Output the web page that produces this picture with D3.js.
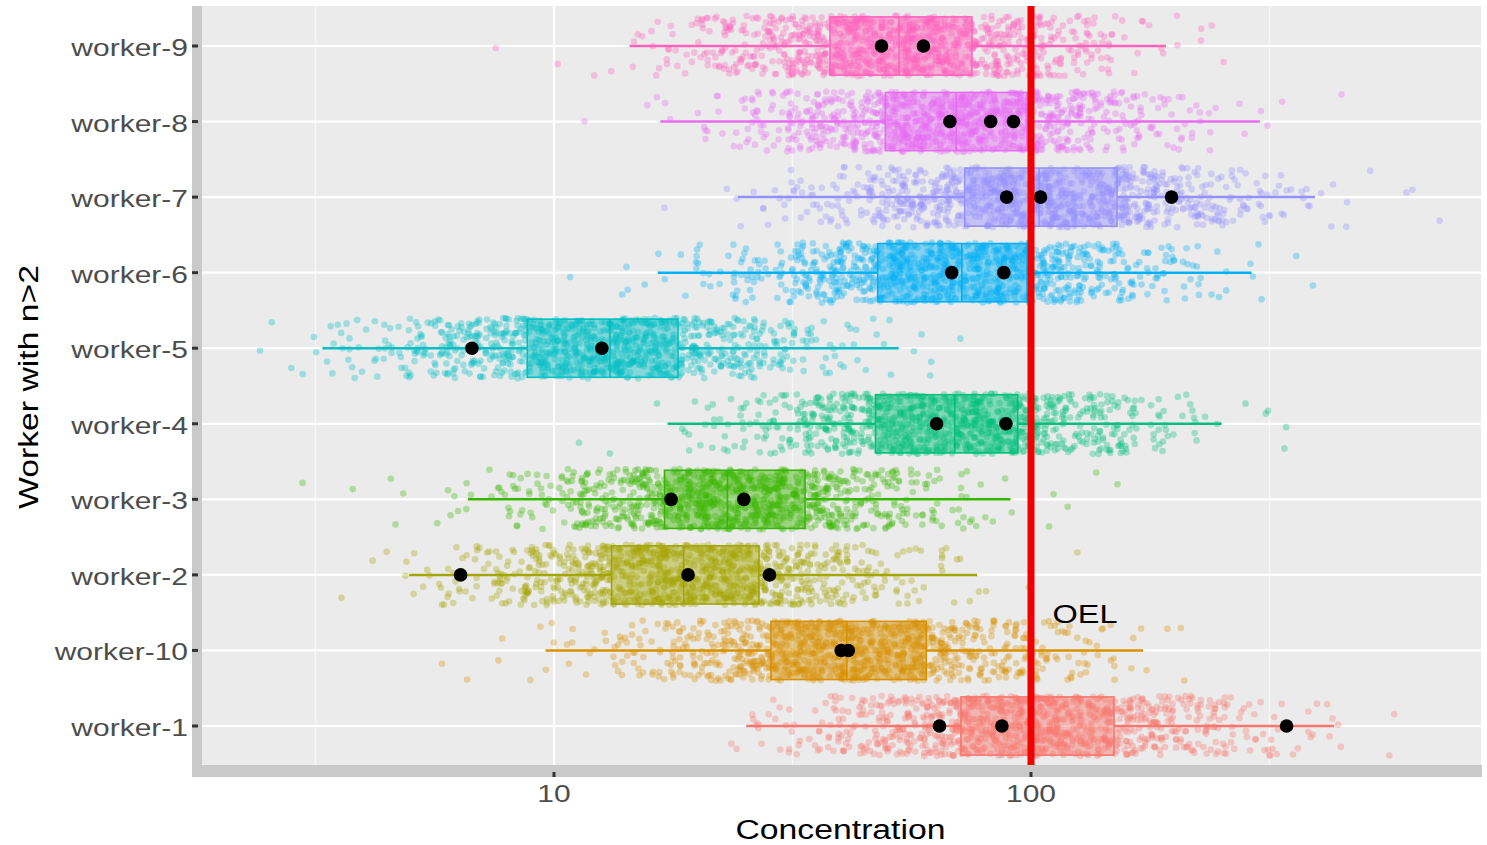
<!DOCTYPE html>
<html><head><meta charset="utf-8">
<script src="https://cdn.jsdelivr.net/npm/d3@7"></script>
<style>html,body{margin:0;padding:0;background:#fff;}svg{display:block;}</style>
</head><body>
<script>
// ---------- DATA ----------
// categories, bottom to top (ggplot alphabetical order)
const workers = ["worker-1","worker-10","worker-2","worker-3","worker-4","worker-5","worker-6","worker-7","worker-8","worker-9"];
const colors = ["#F8766D","#D89000","#A3A500","#39B600","#00BF7D","#00BFC4","#00B0F6","#9590FF","#E76BF3","#FF62BC"];
// boxplot statistics (Concentration)
const whiskerLow  = [25.3, 9.6, 4.97, 6.6, 17.3, 3.27, 16.5, 24.3, 16.7, 14.4];
const q1          = [71.3, 28.5, 13.2, 17.05, 47.2, 8.79, 47.7, 72.6, 49.5, 37.9];
const median      = [101, 41.1, 18.7, 23.1, 69.2, 13.1, 71.6, 104, 69.7, 52.9];
const q3          = [149.3, 60.3, 26.9, 33.6, 93.8, 18.2, 98.1, 151.5, 98.1, 75.2];
const whiskerHigh = [431.7, 171.8, 77.1, 90.6, 251, 52.8, 290, 394, 302, 191.9];
// observed measurements (black dots)
const obs_w1  = [64.3, 86.9, 343.4];
const obs_w10 = [40.0, 41.4];
const obs_w2  = [6.37, 19.1, 28.3];
const obs_w3  = [17.6, 25.0];
const obs_w4  = [63.4, 88.6];
const obs_w5  = [6.73, 12.6];
const obs_w6  = [68.2, 87.7];
const obs_w7  = [88.9, 104.7, 197.1];
const obs_w8  = [67.6, 82.3, 91.9];
const obs_w9  = [48.6, 59.5];
const observed = [obs_w1, obs_w10, obs_w2, obs_w3, obs_w4, obs_w5, obs_w6, obs_w7, obs_w8, obs_w9];
// jittered cloud: approximate number of points per log10 bin (bins start at log10 = 0.3, width 0.1)
const binStart = 0.3, binWidth = 0.1;
const cloud_w1  = [0,0,0,0,0,0,0,0,0,0,3,12,29,55,99,140,160,167,135,95,59,27,13,5,2,0];
const cloud_w10 = [0,0,0,0,1,2,3,9,23,51,86,132,158,169,142,107,62,34,13,5,1,0,0,0,0,0];
const cloud_w2  = [0,0,1,4,13,34,63,112,150,176,161,130,81,45,18,7,2,1,0,0,0,0,0,0,0,0];
const cloud_w3  = [0,0,1,2,3,10,27,63,108,160,181,174,128,82,39,17,5,2,1,1,0,0,0,0,0,0];
const cloud_w4  = [0,0,0,0,0,0,0,1,1,3,17,40,81,128,170,178,157,107,64,28,12,4,1,0,0,0];
const cloud_w5  = [1,4,11,28,54,97,137,168,164,139,95,56,26,11,4,1,0,0,0,0,0,0,0,0,0,0];
const cloud_w6  = [0,0,0,0,0,0,0,1,2,7,18,43,78,124,157,172,151,116,69,37,14,5,2,0,0,0];
const cloud_w7  = [0,0,0,0,0,0,0,0,0,1,3,9,24,48,89,130,163,165,146,104,64,31,14,5,2,1];
const cloud_w8  = [0,0,0,0,0,0,0,0,1,5,15,37,77,124,168,180,161,114,68,31,12,4,1,1,0,0];
const cloud_w9  = [0,0,0,0,0,0,1,2,6,18,45,84,135,171,180,151,105,58,28,10,3,1,0,0,0,0];
const clouds = [cloud_w1, cloud_w10, cloud_w2, cloud_w3, cloud_w4, cloud_w5, cloud_w6, cloud_w7, cloud_w8, cloud_w9];
const xTicks = [10, 100];
const xMinor = [Math.sqrt(10), Math.sqrt(1000), Math.sqrt(100000)];
const oelValue = 100;
const oelLabel = "OEL";
const xTitle = "Concentration";
const yTitle = "Worker with n>2";

// ---------- LAYOUT ----------
const W = 1487, H = 845;
const panel = {left: 200, right: 1481, top: 6, bottom: 768};
const svg = d3.select("body").append("svg").attr("width", W).attr("height", H);

const x = d3.scaleLog().domain([10, 100]).range([554, 1031]);
const y = d3.scalePoint().domain(workers).range([726, 46]);
const step = y.step();
const FONT = "'Liberation Sans', Arial, Helvetica, sans-serif";
const SX = 1.25; // horizontal text stretch seen in the reference

// panel background
svg.append("rect").attr("x", panel.left).attr("y", panel.top)
  .attr("width", panel.right - panel.left).attr("height", panel.bottom - panel.top).attr("fill", "#EBEBEB");

const grid = svg.append("g");
grid.selectAll("line.minor").data(xMinor).join("line")
  .attr("x1", d => x(d)).attr("x2", d => x(d)).attr("y1", panel.top).attr("y2", panel.bottom)
  .attr("stroke", "#F7F7F7").attr("stroke-width", 1.2);
grid.selectAll("line.majx").data(xTicks).join("line")
  .attr("x1", d => x(d)).attr("x2", d => x(d)).attr("y1", panel.top).attr("y2", panel.bottom)
  .attr("stroke", "#FFFFFF").attr("stroke-width", 2.2);
grid.selectAll("line.majy").data(workers).join("line")
  .attr("x1", panel.left).attr("x2", panel.right).attr("y1", d => y(d)).attr("y2", d => y(d))
  .attr("stroke", "#FFFFFF").attr("stroke-width", 2.2);

// deterministic hash used only to lay out the jitter (not data)
function hash01(n) {
  let h = (n * 2654435761) >>> 0;
  h ^= h >>> 16; h = Math.imul(h, 0x45d9f3b) >>> 0; h ^= h >>> 16;
  h = Math.imul(h, 0x45d9f3b) >>> 0; h ^= h >>> 16;
  return (h >>> 0) / 4294967296;
}

// jittered cloud
const cloudG = svg.append("g");
let k = 0;
workers.forEach((w, wi) => {
  const cy = y(w);
  const pts = [];
  clouds[wi].forEach((n, bi) => {
    const c = binStart + binWidth * (bi + 0.5);
    for (let j = 0; j < n; j++) {
      k++;
      const u1 = hash01(3 * k + 1), u2 = hash01(3 * k + 2), u3 = hash01(3 * k + 3);
      const lv = c + (u1 + u3 - 1) * binWidth;
      pts.push({v: Math.pow(10, lv), dy: (u2 - 0.5) * 0.8 * step});
    }
  });
  cloudG.append("g").selectAll("circle").data(pts).join("circle")
    .attr("cx", d => x(d.v)).attr("cy", d => cy + d.dy).attr("r", 3.3)
    .attr("fill", colors[wi]).attr("fill-opacity", 0.33);
});

// boxplots
const boxH = step * 0.77;
const boxG = svg.append("g");
workers.forEach((w, wi) => {
  const cy = y(w), col = colors[wi];
  const g = boxG.append("g");
  g.append("line").attr("x1", x(whiskerLow[wi])).attr("x2", x(q1[wi])).attr("y1", cy).attr("y2", cy)
    .attr("stroke", col).attr("stroke-width", 2.5);
  g.append("line").attr("x1", x(q3[wi])).attr("x2", x(whiskerHigh[wi])).attr("y1", cy).attr("y2", cy)
    .attr("stroke", col).attr("stroke-width", 2.5);
  g.append("rect").attr("x", x(q1[wi])).attr("y", cy - boxH / 2)
    .attr("width", x(q3[wi]) - x(q1[wi])).attr("height", boxH)
    .attr("fill", col).attr("fill-opacity", 0.45).attr("stroke", col).attr("stroke-width", 1.6);
  g.append("line").attr("x1", x(median[wi])).attr("x2", x(median[wi]))
    .attr("y1", cy - boxH / 2).attr("y2", cy + boxH / 2).attr("stroke", col).attr("stroke-width", 1.6);
});

// observed points
const dotG = svg.append("g");
workers.forEach((w, wi) => {
  dotG.append("g").selectAll("circle").data(observed[wi]).join("circle")
    .attr("cx", d => x(d)).attr("cy", y(w)).attr("r", 6.8).attr("fill", "#000");
});

// OEL line
svg.append("line").attr("x1", x(oelValue)).attr("x2", x(oelValue))
  .attr("y1", panel.top).attr("y2", panel.bottom).attr("stroke", "#F00000").attr("stroke-width", 7);

function txt(px, py, s, size, anchor, fill, rot) {
  return svg.append("text")
    .attr("transform", `translate(${px},${py})` + (rot ? ` rotate(${rot})` : "") + ` scale(${SX},1)`)
    .attr("font-family", FONT).attr("font-size", size).attr("text-anchor", anchor).attr("fill", fill)
    .text(s);
}

// OEL label (annotation between worker-10 and worker-2)
txt(x(129.8), (y("worker-10") + y("worker-2")) / 2 + 10, oelLabel, 26, "middle", "#000");

// axis lines (thick grey)
svg.append("rect").attr("x", 192).attr("y", panel.top).attr("width", 10).attr("height", 771).attr("fill", "#C9C9C9");
svg.append("rect").attr("x", 192).attr("y", 765).attr("width", panel.right - 192 + 1).attr("height", 12).attr("fill", "#C9C9C9");

// ticks
svg.append("g").selectAll("line").data(workers).join("line")
  .attr("x1", 192).attr("x2", 198).attr("y1", d => y(d)).attr("y2", d => y(d))
  .attr("stroke", "#333").attr("stroke-width", 3);
svg.append("g").selectAll("line").data(xTicks).join("line")
  .attr("x1", d => x(d)).attr("x2", d => x(d)).attr("y1", 772).attr("y2", 777)
  .attr("stroke", "#333").attr("stroke-width", 3);

// tick labels
workers.forEach(w => txt(188, y(w) + 10, w, 24, "end", "#4D4D4D"));
xTicks.forEach(v => txt(x(v), 802, d3.format("d")(v), 24, "middle", "#4D4D4D"));

// axis titles
txt((panel.left + panel.right) / 2, 839, xTitle, 27, "middle", "#000");
txt(38, (panel.top + panel.bottom) / 2, yTitle, 27, "middle", "#000", -90);
</script>
</body></html>
